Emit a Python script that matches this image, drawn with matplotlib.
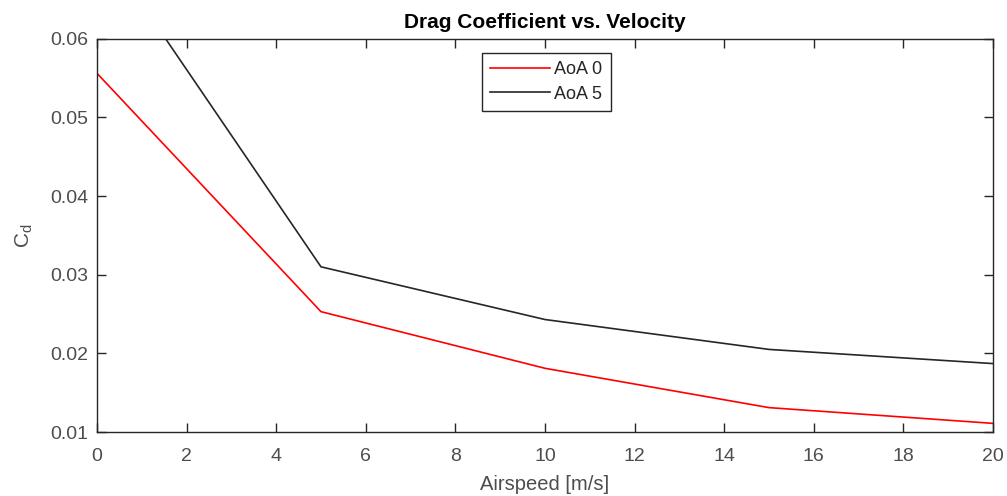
import numpy as np
import matplotlib
matplotlib.use("Agg")
import matplotlib.pyplot as plt

plt.rcParams['font.family'] = ['Liberation Sans', 'DejaVu Sans']
plt.rcParams['mathtext.fontset'] = 'custom'
plt.rcParams['mathtext.rm'] = 'Liberation Sans'

# values
airspeed = [0, 5, 10, 15, 20]
cd_aoa0 = [0.0556, 0.0253, 0.0181, 0.0131, 0.0111]
cd_aoa5 = [0.0728, 0.0310, 0.0243, 0.0205, 0.0187]
series_labels = ['AoA 0', 'AoA 5']

xticks = np.arange(0, 21, 2)
yticks = [0.01, 0.02, 0.03, 0.04, 0.05, 0.06]

fig = plt.figure(figsize=(10.07, 4.96), dpi=100)
ax = fig.add_axes([0.0963, 0.129, 0.8898, 0.793])

ax.plot(airspeed, cd_aoa0, color='red', lw=1.2, label=series_labels[0])
ax.plot(airspeed, cd_aoa5, color='#262626', lw=1.2, label=series_labels[1])

ax.set_xlim(0, 20)
ax.set_ylim(0.01, 0.06)
ax.set_xticks(xticks)
ax.set_yticks(yticks)
ax.set_yticklabels([f'{v:.2f}' for v in yticks])

txt = '#262626'
for s in ax.spines.values():
    s.set_color(txt)
    s.set_linewidth(1.0)
ax.tick_params(direction='in', top=True, right=True, length=6.5, width=1.0,
               colors=txt, labelcolor='#4d4d4d', labelsize=14)
ax.tick_params(axis='x', pad=11.5)
ax.tick_params(axis='y', pad=6)

ax.set_title('Drag Coefficient vs. Velocity', fontsize=15, fontweight='bold', color='black', pad=8)
ax.set_xlabel('Airspeed [m/s]', fontsize=14.5, color='#4d4d4d', labelpad=7)
ax.set_ylabel(r'C$_\mathrm{d}$', fontsize=15, color='#4d4d4d', labelpad=11)

leg = ax.legend(loc='upper left', bbox_to_anchor=(0.43, 0.963), fontsize=13,
                frameon=True, fancybox=False, edgecolor=txt, framealpha=1,
                handlelength=3.3, borderpad=0.45, labelspacing=0.4, handletextpad=0.25,
                borderaxespad=0)
leg.get_frame().set_linewidth(1.0)
for t in leg.get_texts():
    t.set_color(txt)

fig.savefig('out.png', dpi=100)
